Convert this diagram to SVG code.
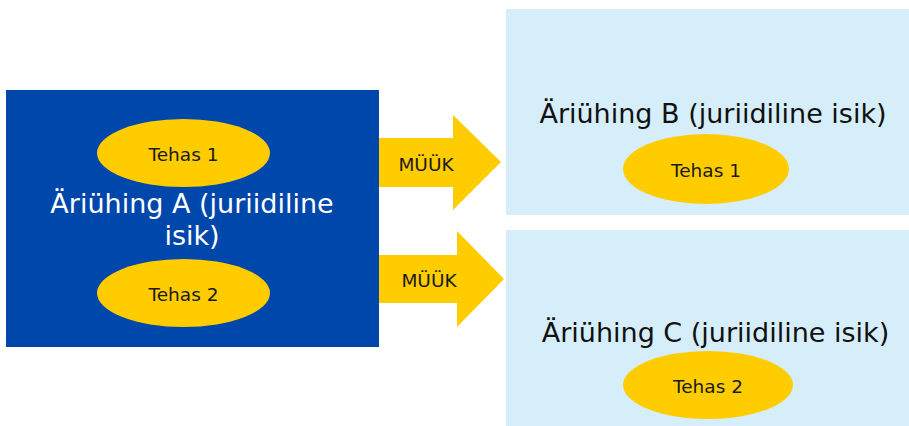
<svg xmlns="http://www.w3.org/2000/svg" width="909" height="426" viewBox="0 0 909 426">
<style>
.t{font-family:"DejaVu Sans","Verdana",sans-serif;text-anchor:middle}
.big{font-size:27px}
.sm{font-size:18.5px;fill:#1a1a1a}
.oval{fill:#FFCC00}
.arrow{fill:#FFCC00}
.light{fill:#D6EEF9}
</style>
<rect width="909" height="426" fill="#ffffff"/>
<g id="nodeA">
<rect x="6" y="90" width="373" height="257" fill="#0047AB"/>
<text class="t big" x="192" y="213" fill="#ffffff">Äriühing A (juriidiline</text>
<text class="t big" x="192" y="245" fill="#ffffff">isik)</text>
</g>
<g id="A-tehas1">
<ellipse class="oval" cx="183.5" cy="153" rx="86.5" ry="34"/>
<text class="t sm" x="183.5" y="161">Tehas 1</text>
</g>
<g id="A-tehas2">
<ellipse class="oval" cx="183.5" cy="293" rx="86.5" ry="34"/>
<text class="t sm" x="183.5" y="301">Tehas 2</text>
</g>
<g id="nodeB">
<rect class="light" x="506" y="9" width="403" height="206"/>
<text class="t big" x="713" y="123" fill="#111111">Äriühing B (juriidiline isik)</text>
</g>
<g id="B-tehas1">
<ellipse class="oval" cx="706" cy="169" rx="83" ry="35"/>
<text class="t sm" x="706" y="177">Tehas 1</text>
</g>
<g id="nodeC">
<rect class="light" x="506" y="230" width="403" height="196"/>
<text class="t big" x="715.5" y="342" fill="#111111">Äriühing C (juriidiline isik)</text>
</g>
<g id="C-tehas2">
<ellipse class="oval" cx="708" cy="385" rx="85" ry="34"/>
<text class="t sm" x="708" y="393">Tehas 2</text>
</g>
<g id="connectors">
<g id="arrow1">
<polygon class="arrow" points="379,138 453,138 453,115 501,162 453,210 453,187 379,187"/>
<text class="t sm" x="426" y="171">MÜÜK</text>
</g>
<g id="arrow2">
<polygon class="arrow" points="379,255 457,255 457,231 504,279 457,327 457,303 379,303"/>
<text class="t sm" x="429" y="287">MÜÜK</text>
</g>
</g>
</svg>
